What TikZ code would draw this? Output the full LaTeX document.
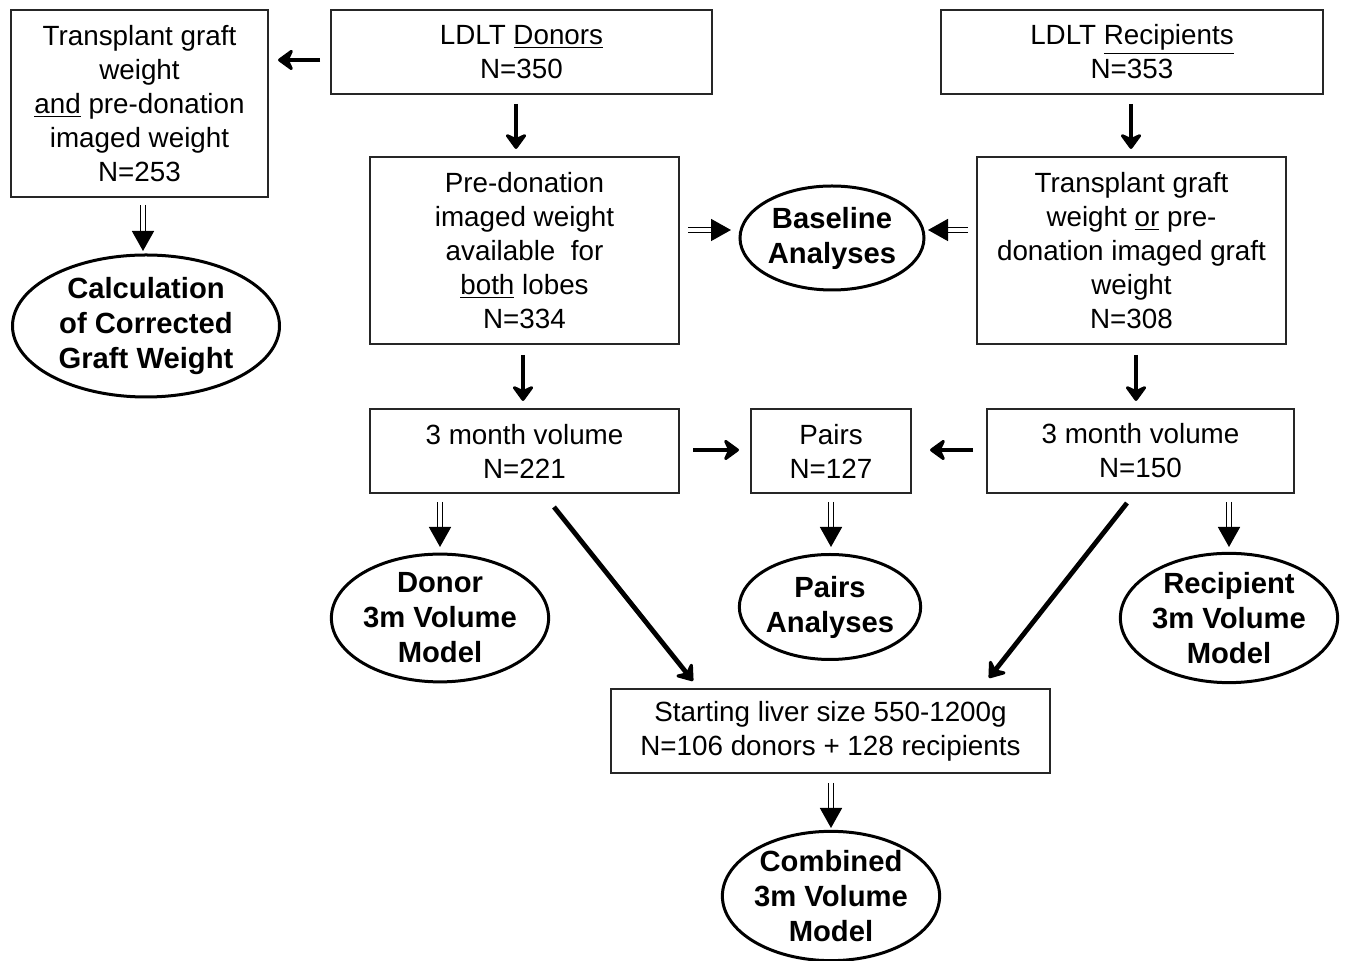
\documentclass[tikz,border=0pt]{standalone}
\usepackage{fontspec}
\setmainfont{Liberation Sans}
\usetikzlibrary{shapes.geometric,arrows.meta}
\tikzset{
  box/.style={draw=black!85,line width=0.75pt,rectangle,inner sep=0pt,align=center,
    font=\fontsize{13.9}{17}\selectfont},
  oval/.style={draw=black,line width=1.5pt,ellipse,inner sep=0pt,align=center,
    font=\fontsize{14.6}{17.5}\selectfont\bfseries},
  sarrow/.style={line width=2pt,-{Stealth[length=9pt,width=13pt,inset=3pt,round]}},
  darrow/.style={double,double distance=1.6pt,line width=0.8pt,-{Triangle[length=10pt,width=11pt]}},
}
\begin{document}
\begin{tikzpicture}[x=0.5pt,y=-0.5pt]
\useasboundingbox (0,0) rectangle (1346,961);
% boxes
\node[box,minimum width=128.5pt,minimum height=93.5pt] (tg) at (139.5,103.5)
  {Transplant graft\\weight\\\underline{and} pre-donation\\imaged weight\\N=253};
\node[box,minimum width=190.5pt,minimum height=42pt] (don) at (521.5,52)
  {LDLT \underline{Donors}\\N=350};
\node[box,minimum width=191pt,minimum height=42pt] (rec) at (1132,52)
  {LDLT \underline{Recipients}\\N=353};
\node[box,minimum width=154.5pt,minimum height=93.5pt] (pre) at (524.5,250.5)
  {Pre-donation\\imaged weight\\available\ \ for\\\underline{both} lobes\\N=334};
\node[box,minimum width=154.5pt,minimum height=93.5pt] (trg) at (1131.5,250.5)
  {Transplant graft\\weight \underline{or} pre-\\donation imaged graft\\weight\\N=308};
\node[box,minimum width=154.5pt,minimum height=42pt] (tml) at (524.5,451)
  {3 month volume\\N=221};
\node[box,minimum width=80pt,minimum height=42pt] (pairs) at (831,451)
  {Pairs\\N=127};
\node[box,minimum width=153.5pt,minimum height=42pt] (tmr) at (1140.5,451)
  {3 month volume\\N=150};
\node[box,minimum width=219.5pt,minimum height=42pt] (start) at (830.5,731)
  {Starting liver size 550-1200g\\N=106 donors + 128 recipients};
% ellipses
\node[oval,minimum width=133.5pt,minimum height=71pt] (calc) at (146,326)
  {Calculation\\of Corrected\\Graft Weight};
\node[oval,minimum width=92pt,minimum height=52pt] (base) at (832,238)
  {Baseline\\Analyses};
\node[oval,minimum width=107.5pt,minimum height=63.5pt] (dmod) at (440,618)
  {Donor\\3m Volume\\Model};
\node[oval,minimum width=90pt,minimum height=52.5pt] (pan) at (830,607)
  {Pairs\\Analyses};
\node[oval,minimum width=107pt,minimum height=63.5pt] (rmod) at (1229,618)
  {Recipient\\3m Volume\\Model};
\node[oval,minimum width=107pt,minimum height=63.5pt] (cmod) at (831,896)
  {Combined\\3m Volume\\Model};
% arrow end points
\coordinate (a1s) at (320,60);   \coordinate (a1e) at (278,60);
\coordinate (a2s) at (516,104);  \coordinate (a2e) at (516,149);
\coordinate (a3s) at (1131,104); \coordinate (a3e) at (1131,149);
\coordinate (a4s) at (688,230);  \coordinate (a4e) at (731,230);
\coordinate (a5s) at (968,230);  \coordinate (a5e) at (928,230);
\coordinate (a6s) at (143,205);  \coordinate (a6e) at (143,251);
\coordinate (a7s) at (523,355);  \coordinate (a7e) at (523,401);
\coordinate (a8s) at (1136,355); \coordinate (a8e) at (1136,401);
\coordinate (a9s) at (693,450);  \coordinate (a9e) at (739,450);
\coordinate (b1s) at (973,450);  \coordinate (b1e) at (930,450);
\coordinate (b2s) at (440,502);  \coordinate (b2e) at (440,547);
\coordinate (b3s) at (831,502);  \coordinate (b3e) at (831,547);
\coordinate (b4s) at (1229,502); \coordinate (b4e) at (1229,547);
\coordinate (b5s) at (554,507);  \coordinate (b5e) at (693,681);
\coordinate (b6s) at (1127,503); \coordinate (b6e) at (989,678);
\coordinate (b7s) at (831,783);  \coordinate (b7e) at (831,828);
% single arrows
\draw[sarrow] (a1s) -- (a1e);
\draw[sarrow] (a2s) -- (a2e);
\draw[sarrow] (a3s) -- (a3e);
\draw[sarrow] (a7s) -- (a7e);
\draw[sarrow] (a8s) -- (a8e);
\draw[sarrow] (a9s) -- (a9e);
\draw[sarrow] (b1s) -- (b1e);
\draw[sarrow,line width=2.4pt] (b5s) -- (b5e);
\draw[sarrow,line width=2.4pt] (b6s) -- (b6e);
% double arrows
\draw[darrow] (a4s) -- (a4e);
\draw[darrow] (a5s) -- (a5e);
\draw[darrow] (a6s) -- (a6e);
\draw[darrow] (b2s) -- (b2e);
\draw[darrow] (b3s) -- (b3e);
\draw[darrow] (b4s) -- (b4e);
\draw[darrow] (b7s) -- (b7e);
\end{tikzpicture}
\end{document}
